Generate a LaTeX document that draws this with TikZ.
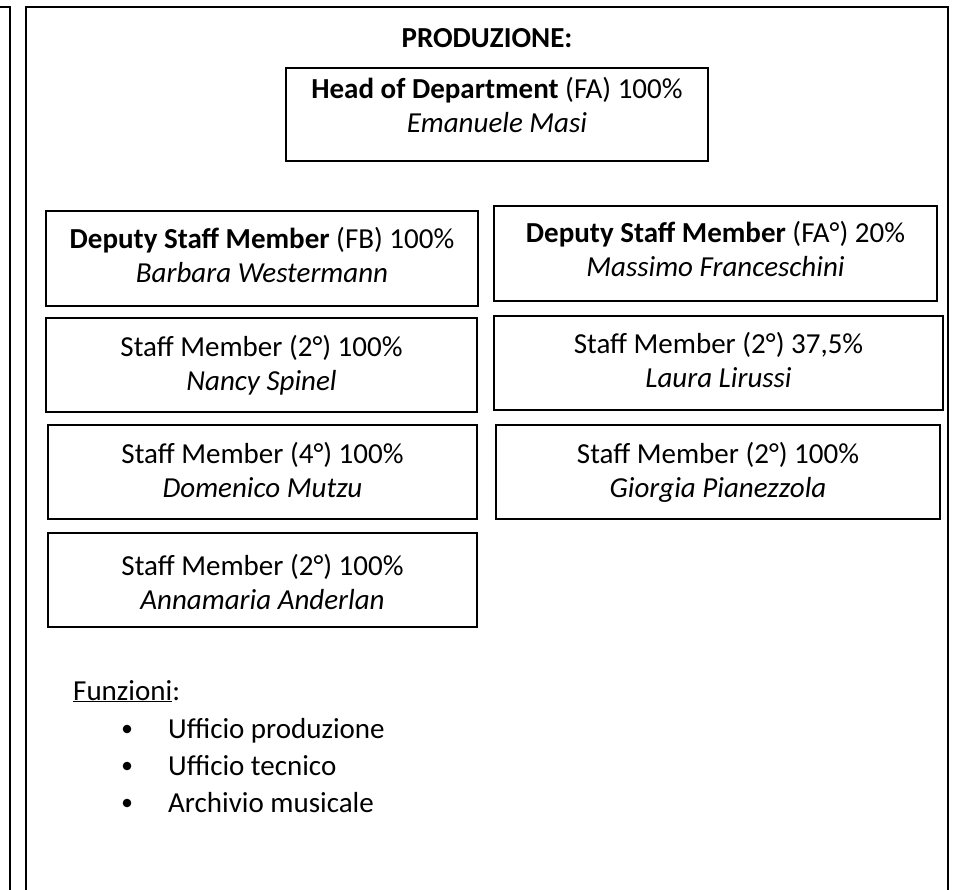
\documentclass[tikz,border=0pt]{standalone}
\usepackage{fontspec}
\setmainfont{Carlito}
\tikzset{
  orgbox/.style={draw, line width=2pt, inner sep=0pt, anchor=north west, align=flush center,
    font=\fontsize{29}{34}\selectfont},
  plain/.style={inner sep=0pt, font=\fontsize{29}{34}\selectfont},
  frame/.style={line width=2pt},
}
\begin{document}
\begin{tikzpicture}[x=1pt,y=-1pt]
\useasboundingbox (0,0) rectangle (958,890);

% Frames
\draw[frame] (-5,7) -- (9.5,7) -- (9.5,900);
\draw[frame] (26,900) -- (26,7) -- (948,7) -- (948,900);

% Title
\node[plain, anchor=base] (title) at (487,48) {\textbf{PRODUZIONE:}};

% Head
\node[orgbox, text width=422pt, text height=31pt, text depth=62pt] (head) at (285,67)
  {\textbf{Head of Department} (FA) 100\%\\\textit{Emanuele Masi}};

% Deputies
\node[orgbox, text width=432pt, text height=38pt, text depth=57pt] (dep1) at (45,210)
  {\textbf{Deputy Staff Member} (FB) 100\%\\\textit{Barbara Westermann}};
\node[orgbox, text width=443pt, text height=37pt, text depth=58pt] (dep2) at (493,205)
  {\textbf{Deputy Staff Member} (FA°) 20\%\\\textit{Massimo Franceschini}};

% Staff, left column
\node[orgbox, text width=431pt, text height=38pt, text depth=56pt] (staff1) at (45,317)
  {Staff Member (2°) 100\%\\\textit{Nancy Spinel}};
\node[orgbox, text width=429pt, text height=38pt, text depth=56pt] (staff2) at (47,424)
  {Staff Member (4°) 100\%\\\textit{Domenico Mutzu}};
\node[orgbox, text width=429pt, text height=42pt, text depth=52pt] (staff3) at (47,532)
  {Staff Member (2°) 100\%\\\textit{Annamaria Anderlan}};

% Staff, right column
\node[orgbox, text width=449pt, text height=38pt, text depth=56pt] (staff4) at (493,315)
  {Staff Member (2°) 37,5\%\\\textit{Laura Lirussi}};
\node[orgbox, text width=444pt, text height=38pt, text depth=56pt] (staff5) at (495,424)
  {Staff Member (2°) 100\%\\\textit{Giorgia Pianezzola}};

% Funzioni
\node[plain, anchor=base west] (funz) at (73,700) {\underline{Funzioni}:};
\foreach \t [count=\i] in {Ufficio produzione, Ufficio tecnico, Archivio musicale} {
  \node[plain, anchor=base west] (item\i) at (168,701+37*\i) {\t};
  \fill (127,692+37*\i) circle (4.3);
}
\end{tikzpicture}
\end{document}
